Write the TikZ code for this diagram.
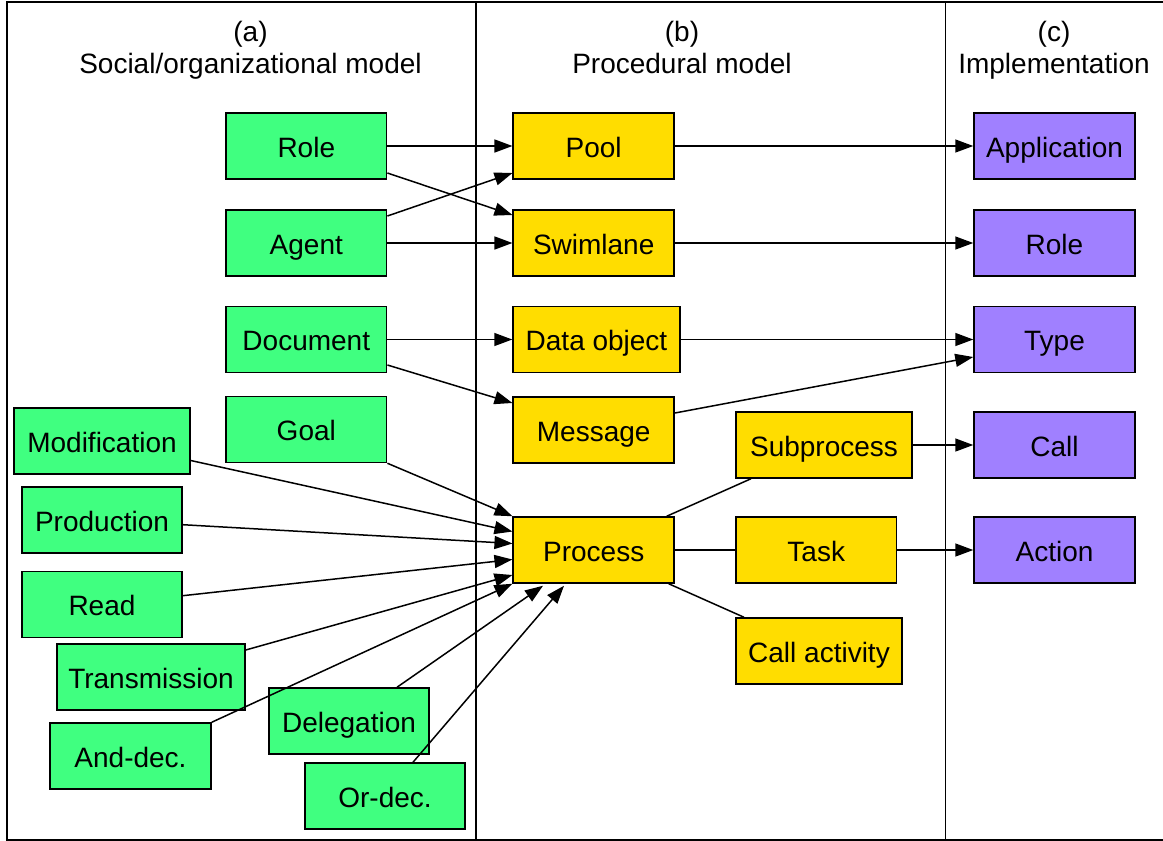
\documentclass[tikz,border=0pt]{standalone}
\usepackage{fontspec}
\setmainfont{Liberation Sans}
\usetikzlibrary{arrows.meta}
\definecolor{socgreen}{RGB}{64,255,128}
\definecolor{procyellow}{RGB}{255,221,0}
\definecolor{implpurple}{RGB}{160,128,255}
\tikzset{
  box/.style={draw, line width=1.5pt, rectangle, inner sep=0pt, minimum height=66pt,
    text height=22pt, text depth=0pt, font=\fontsize{28}{33}\selectfont},
  social/.style={box, fill=socgreen},
  procedural/.style={box, fill=procyellow},
  impl/.style={box, fill=implpurple},
  link/.style={line width=1.5pt, -{Triangle[length=18pt,width=13pt]}},
  plain/.style={line width=1.5pt},
  header/.style={anchor=base, inner sep=0pt, font=\fontsize{28}{33}\selectfont}
}
\begin{document}
\begin{tikzpicture}[x=1pt,y=-1pt]
\useasboundingbox (0,0) rectangle (1163,841);

% frame and column separators
\draw[line width=2pt] (1163,2) -- (7,2) -- (7,840) -- (1163,840);
\draw[line width=1.5pt] (476,2) -- (476,840);
\draw[line width=1.5pt] (945.5,2) -- (945.5,840);

% column headings
\node[header] (ha) at (250.5,41.5) {(a)};
\node[header] (hat) at (250.5,73) {Social/organizational model};
\node[header] (hb) at (682,41.5) {(b)};
\node[header] (hbt) at (682,73) {Procedural model};
\node[header] (hc) at (1054,41.5) {(c)};
\node[header] (hct) at (1054,73) {Implementation};

% social/organizational model
\node[social, minimum width=160.7pt] (role) at (306.3,146) {Role};
\node[social, minimum width=160.7pt] (agent) at (306.3,243) {Agent};
\node[social, minimum width=160.7pt] (doc) at (306.3,339.5) {Document};
\node[social, minimum width=160.7pt] (goal) at (306.3,429.5) {Goal};
\node[social, minimum width=176pt] (modif) at (102,441) {Modification};
\node[social, minimum width=160pt] (prod) at (102,520) {Production};
\node[social, minimum width=160pt] (read) at (102,604.5) {Read};
\node[social, minimum width=188pt] (trans) at (151,677) {Transmission};
\node[social, minimum width=161pt] (anddec) at (130.5,756) {And-dec.};
\node[social, minimum width=160pt] (deleg) at (349,721) {Delegation};
\node[social, minimum width=160pt] (ordec) at (385,796) {Or-dec.};

% procedural model
\node[procedural, minimum width=161pt] (pool) at (593.7,146) {Pool};
\node[procedural, minimum width=161pt] (swim) at (593.7,243) {Swimlane};
\node[procedural, minimum width=167pt] (dataobj) at (596.5,339.5) {Data object};
\node[procedural, minimum width=161pt] (msg) at (593.7,430) {Message};
\node[procedural, minimum width=176pt] (sub) at (824,445) {Subprocess};
\node[procedural, minimum width=161pt] (proc) at (593.7,550) {Process};
\node[procedural, minimum width=160.4pt] (task) at (816.2,550) {Task};
\node[procedural, minimum width=166pt] (callact) at (819,651) {Call activity};

% implementation
\node[impl, minimum width=161pt] (app) at (1054.5,146) {Application};
\node[impl, minimum width=161pt] (irole) at (1054.5,243) {Role};
\node[impl, minimum width=161pt] (type) at (1054.5,339.5) {Type};
\node[impl, minimum width=161pt] (call) at (1054.5,445) {Call};
\node[impl, minimum width=161pt] (action) at (1054.5,550) {Action};

% social -> procedural
\draw[link] (role.east) -- (pool.west);
\draw[link] ([yshift=-27pt]role.east) -- ([yshift=28pt]swim.west);
\draw[link] ([yshift=27pt]agent.east) -- ([yshift=-27pt]pool.west);
\draw[link] (agent.east) -- (swim.west);
\draw[link] (doc.east) -- (dataobj.west);
\draw[link] ([yshift=-25.5pt]doc.east) -- ([yshift=27pt]msg.west);
\draw[link] (goal.south east) -- (proc.north west);
\draw[link] ([yshift=-19.5pt]modif.east) -- ([yshift=18.5pt]proc.west);
\draw[link] ([yshift=-4.7pt]prod.east) -- ([yshift=6.5pt]proc.west);
\draw[link] ([yshift=8.8pt]read.east) -- ([yshift=-9.5pt]proc.west);
\draw[link] ([yshift=27pt]trans.east) -- ([yshift=-25pt]proc.west);
\draw[link] (anddec.north east) -- (proc.south west);
\draw[link] ([xshift=48pt]deleg.north) -- ([xshift=-50.7pt,yshift=-2pt]proc.south);
\draw[link] ([xshift=28pt]ordec.north) -- ([xshift=-29.7pt,yshift=-2pt]proc.south);

% procedural -> implementation
\draw[link] (pool.east) -- (app.west);
\draw[link] (swim.east) -- (irole.west);
\draw[link] (dataobj.east) -- (type.west);
\draw[link] ([yshift=17pt]msg.east) -- ([yshift=-17.5pt]type.west);
\draw[link] (sub.east) -- (call.west);
\draw[link] (task.east) -- (action.west);

% process structure
\draw[plain] ([xshift=73pt]proc.north) -- ([xshift=-73pt]sub.south);
\draw[plain] (proc.east) -- (task.west);
\draw[plain] ([xshift=75pt]proc.south) -- ([xshift=-75pt]callact.north);
\end{tikzpicture}
\end{document}
